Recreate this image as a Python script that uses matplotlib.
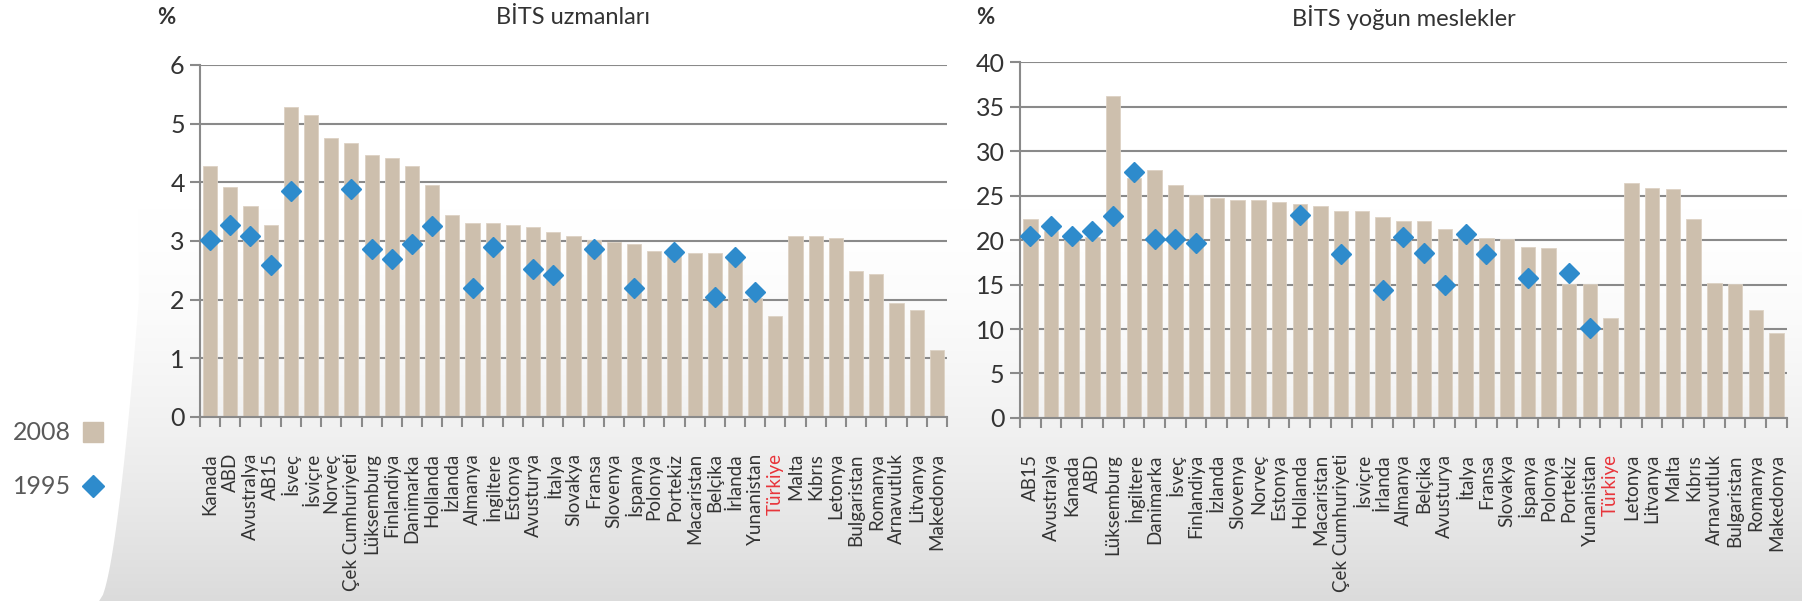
import numpy as np
import matplotlib
matplotlib.use("Agg")
import matplotlib.pyplot as plt
from matplotlib.patches import Polygon

plt.rcParams['font.family'] = ['Lato', 'DejaVu Sans']

# BİTS uzmanları (left panel)
left_countries = ["Kanada", "ABD", "Avustralya", "AB15", "İsveç", "İsviçre", "Norveç",
                  "Çek Cumhuriyeti", "Lüksemburg", "Finlandiya", "Danimarka", "Hollanda",
                  "İzlanda", "Almanya", "İngiltere", "Estonya", "Avusturya", "İtalya",
                  "Slovakya", "Fransa", "Slovenya", "İspanya", "Polonya", "Portekiz",
                  "Macaristan", "Belçika", "İrlanda", "Yunanistan", "Türkiye", "Malta",
                  "Kıbrıs", "Letonya", "Bulgaristan", "Romanya", "Arnavutluk", "Litvanya",
                  "Makedonya"]
left_2008 = [4.28, 3.92, 3.59, 3.27, 5.29, 5.14, 4.75, 4.67, 4.46, 4.42, 4.28, 3.95,
             3.45, 3.31, 3.31, 3.27, 3.23, 3.16, 3.09, 3.02, 2.98, 2.94, 2.83, 2.82,
             2.80, 2.80, 2.73, 2.03, 1.72, 3.09, 3.09, 3.05, 2.48, 2.44, 1.94, 1.82,
             1.14]
left_1995 = [3.02, 3.27, 3.08, 2.59, 3.86, None, None, 3.88, 2.86, 2.69, 2.94, 3.26,
             None, 2.19, 2.90, None, 2.52, 2.42, None, 2.87, None, 2.19, None, 2.82,
             None, 2.05, 2.73, 2.13, None, None, None, None, None, None, None, None,
             None]

# BİTS yoğun meslekler (right panel)
right_countries = ["AB15", "Avustralya", "Kanada", "ABD", "Lüksemburg", "İngiltere",
                   "Danimarka", "İsveç", "Finlandiya", "İzlanda", "Slovenya", "Norveç",
                   "Estonya", "Hollanda", "Macaristan", "Çek Cumhuriyeti", "İsviçre",
                   "İrlanda", "Almanya", "Belçika", "Avusturya", "İtalya", "Fransa",
                   "Slovakya", "İspanya", "Polonya", "Portekiz", "Yunanistan", "Türkiye",
                   "Letonya", "Litvanya", "Malta", "Kıbrıs", "Arnavutluk", "Bulgaristan",
                   "Romanya", "Makedonya"]
right_2008 = [22.4, 21.0, 20.0, 20.3, 36.2, 27.0, 27.9, 26.2, 25.1, 24.75, 24.5, 24.5,
              24.3, 24.0, 23.8, 23.3, 23.3, 22.6, 22.1, 22.1, 21.2, 20.5, 20.2, 20.1,
              19.25, 19.1, 15.1, 15.1, 11.2, 26.4, 25.9, 25.7, 22.4, 15.2, 15.1, 12.1,
              9.5]
right_1995 = [20.4, 21.6, 20.4, 21.0, 22.7, 27.6, 20.1, 20.1, 19.7, None, None, None,
              None, 22.8, None, 18.4, None, 14.4, 20.3, 18.5, 14.9, 20.7, 18.4, None,
              15.7, None, 16.3, 10.1, None, None, None, None, None, None, None, None,
              None]

bar_color = "#cdbfad"
dia_color = "#2e8bcc"
grid_color = "#8a8a8a"
text_color = "#333333"

fig = plt.figure(figsize=(18.02, 6.01), dpi=100)

# background: white to grey gradient with white curved strip on the left
bg = fig.add_axes([0, 0, 1, 1], zorder=-10)
grad = np.linspace(0, 1, 300)[:, None]
shade = np.clip((grad - 0.35) / 0.65, 0, 1) ** 1.6
img = np.ones((300, 2, 3)) * (1 - 0.14 * shade)[:, :, None]
bg.imshow(img, aspect='auto', extent=[0, 1, 0, 1], origin='upper')
yy = np.linspace(0, 0.5, 50)
xx = 0.055 + 0.022 * (yy / 0.5) ** 0.6
pts = [(0, 0), (0, 1), (0.077, 1), (0.077, 0.5)] + list(zip(xx[::-1], yy[::-1]))
bg.add_patch(Polygon(pts, closed=True, color="white", lw=0))
bg.set_xlim(0, 1)
bg.set_ylim(0, 1)
bg.axis('off')


def draw_panel(rect, countries, v2008, v1995, ymax, ystep, title):
    ax = fig.add_axes(rect)
    ax.patch.set_alpha(0)
    x = np.arange(len(countries))
    ax.bar(x, v2008, width=0.7, color=bar_color, edgecolor="#ddd2c4", linewidth=0.6, zorder=2)
    xs = [i for i, v in zip(x, v1995) if v is not None]
    ys = [v for v in v1995 if v is not None]
    ax.plot(xs, ys, linestyle='none', marker='D', markersize=10.5, color=dia_color, zorder=3)
    ax.set_xlim(-0.5, len(countries) - 0.5)
    ax.set_ylim(0, ymax)
    ax.set_yticks(np.arange(0, ymax + 0.01, ystep))
    ax.yaxis.grid(True, color=grid_color, linewidth=1.5, zorder=0)
    ax.set_axisbelow(True)
    for s in ['top', 'right']:
        ax.spines[s].set_visible(False)
    for s in ['left', 'bottom']:
        ax.spines[s].set_color(grid_color)
        ax.spines[s].set_linewidth(1.5)
    ax.set_xticks(np.arange(len(countries) + 1) - 0.5)
    ax.set_xticklabels([])
    ax.set_xticks(x, minor=True)
    ax.set_xticklabels(countries, minor=True, rotation=90, fontsize=13.5, color=text_color)
    ax.tick_params(axis='x', which='major', length=7, width=1.5, color=grid_color)
    ax.tick_params(axis='x', which='minor', length=0, pad=26)
    ax.tick_params(axis='y', length=7, width=1.5, color=grid_color, labelsize=18,
                   labelcolor=text_color, pad=4)
    for lbl in ax.get_xticklabels(minor=True):
        if lbl.get_text() == "Türkiye":
            lbl.set_color("#e8343a")
    # title and unit sit about 18 px below the top edge of the figure
    top_px = (1 - rect[1] - rect[3]) * 601
    yt = 1 + (top_px - 18) / (rect[3] * 601)
    ax.text(0.5, yt, title, transform=ax.transAxes, fontsize=17, color=text_color,
            ha='center', va='center')
    ax.text(-0.045, yt, "%", transform=ax.transAxes, fontsize=16, fontweight='bold',
            color=text_color, ha='center', va='center')
    return ax


draw_panel([0.111, 0.3062, 0.4145, 0.5857], left_countries, left_2008, left_1995,
           6, 1, "BİTS uzmanları")
draw_panel([0.566, 0.3045, 0.4256, 0.5923], right_countries, right_2008, right_1995,
           40, 5, "BİTS yoğun meslekler")

# legend on the left
lg = fig.add_axes([0, 0, 1, 1], zorder=5)
lg.set_xlim(0, 1802)
lg.set_ylim(601, 0)
lg.axis('off')
lg.text(42, 432, "2008", fontsize=18, color="#5a5a5a", ha='center', va='center')
lg.text(42, 486, "1995", fontsize=18, color="#5a5a5a", ha='center', va='center')
lg.plot([93], [432], marker='s', markersize=14, color=bar_color, linestyle='none')
lg.plot([93], [486], marker='D', markersize=11, color=dia_color, linestyle='none')

fig.savefig("out.png", dpi=100)
